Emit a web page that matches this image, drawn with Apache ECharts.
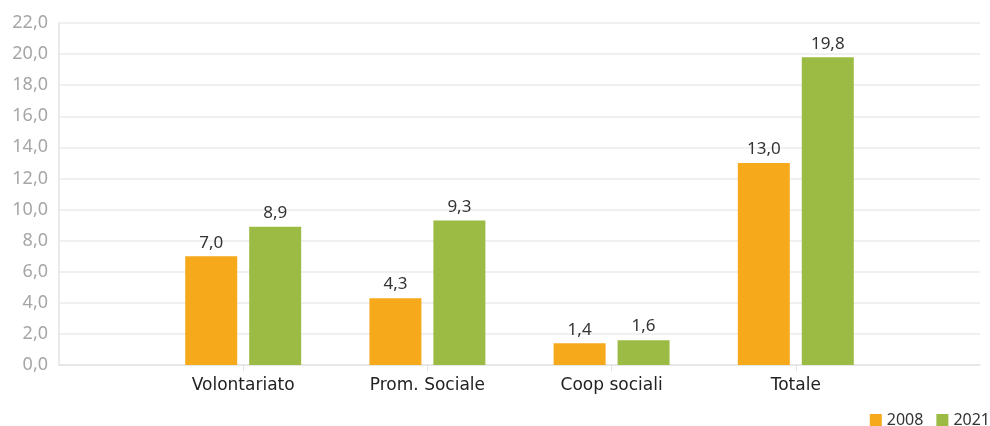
<!DOCTYPE html>
<html>
<head>
<meta charset="utf-8">
<script src="https://cdn.jsdelivr.net/npm/echarts@6/dist/echarts.min.js"></script>
<style>html,body{margin:0;padding:0;background:#fff;}#c{width:990px;height:426px;}</style>
</head>
<body>
<div id="c"></div>
<script>
var categories = ['Volontariato', 'Prom. Sociale', 'Coop sociali', 'Totale'];
var values2008 = [7.0, 4.3, 1.4, 13.0];
var values2021 = [8.9, 9.3, 1.6, 19.8];
var seriesNames = ['2008', '2021'];

var padded = [''].concat(categories).concat(['']);
function pad(arr) { return [null].concat(arr).concat([null]); }
function fmt(v) { return v.toFixed(1).replace('.', ','); }

var NUM = 'Noto Sans';
var CAT = 'DejaVu Sans';
var chart = echarts.init(document.getElementById('c'));
chart.setOption({
  animation: false,
  textStyle: { fontFamily: NUM },
  grid: { left: 59, right: 10, top: 23, bottom: 61 },
  legend: {
    right: 0, top: 412, padding: 0,
    itemWidth: 12, itemHeight: 12, itemGap: 13,
    icon: 'rect',
    textStyle: { fontSize: 16, lineHeight: 16, color: '#333', fontFamily: NUM },
    data: seriesNames
  },
  xAxis: {
    type: 'category',
    data: padded,
    boundaryGap: false,
    axisLine: { lineStyle: { color: '#e3e3e3', width: 1.5 } },
    axisTick: {
      show: true, length: 6,
      interval: function (i) { return i > 0 && i < padded.length - 1; },
      lineStyle: { color: '#e3e3e3' }
    },
    axisLabel: { fontSize: 17, color: '#222', margin: 12, fontFamily: CAT, interval: 0 }
  },
  yAxis: {
    type: 'value',
    min: 0, max: 22, interval: 2,
    axisLine: { show: true, lineStyle: { color: '#e3e3e3', width: 1.5 } },
    axisTick: { show: false },
    splitLine: { lineStyle: { color: '#ebebeb', width: 1.5 } },
    axisLabel: { fontSize: 18, color: '#a6a6a6', margin: 11, fontFamily: NUM, formatter: function (v) { return fmt(v); } }
  },
  series: [
    {
      name: seriesNames[0], type: 'bar', data: pad(values2008),
      barWidth: 52, barGap: '23%',
      itemStyle: { color: '#F6A91B' },
      label: { show: true, position: 'top', distance: 5, fontSize: 17, color: '#333', fontFamily: NUM,
        formatter: function (p) { return fmt(p.value); } }
    },
    {
      name: seriesNames[1], type: 'bar', data: pad(values2021),
      barWidth: 52, barGap: '23%',
      itemStyle: { color: '#9CBB44' },
      label: { show: true, position: 'top', distance: 5, fontSize: 17, color: '#333', fontFamily: NUM,
        formatter: function (p) { return fmt(p.value); } }
    }
  ]
});
</script>
</body>
</html>
